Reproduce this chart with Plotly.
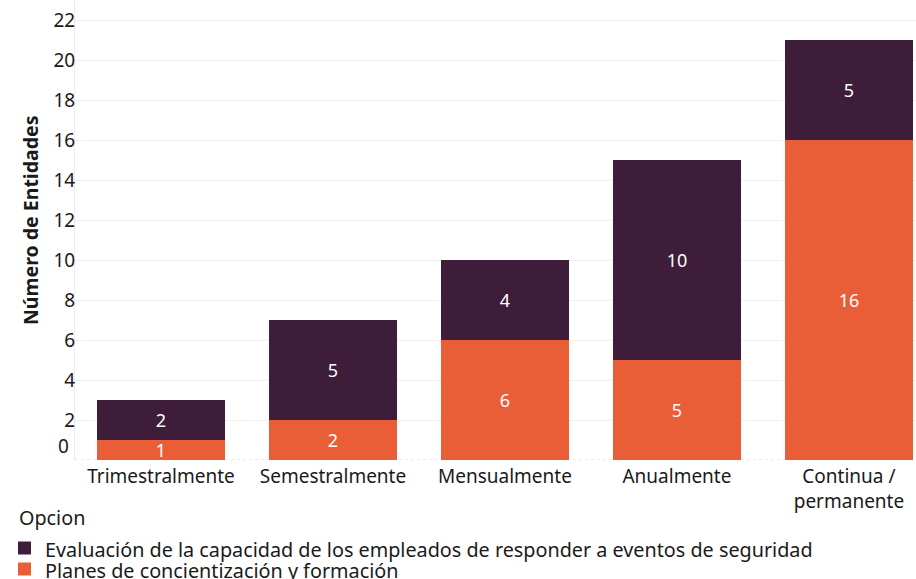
import plotly.graph_objects as go

categories = ["Trimestralmente", "Semestralmente", "Mensualmente", "Anualmente", "Continua /<br>permanente"]
planes = [1, 2, 6, 5, 16]
evaluacion = [2, 5, 4, 10, 5]
y_ticks = [2, 4, 6, 8, 10, 12, 14, 16, 18, 20, 22]
y_title = "Número de Entidades"
legend_title = "Opcion"
name_planes = "Planes de concientización y formación"
name_eval = "Evaluación de la capacidad de los empleados de responder a eventos de seguridad"

FONT = "Noto Sans"
PURPLE = "#3E1D3A"
ORANGE = "#EA5E37"
FS = 19
LFS = 19.8
TXT = "#1a1a1a"

W, H = 916, 579
ML, MR, MT, MB = 75, 0, 0, 119
PW, PH = W - ML - MR, H - MT - MB


def px_x(p):
    return (p - ML) / PW


def px_y(p):
    return (H - MB - p) / PH


fig = go.Figure()
fig.add_trace(go.Bar(
    x=categories, y=planes, name=name_planes,
    marker=dict(color=ORANGE, line=dict(width=0)),
    text=[str(v) for v in planes], textposition="inside", insidetextanchor="middle",
    textangle=0, textfont=dict(color="white", size=18, family=FONT),
    showlegend=False,
))
fig.add_trace(go.Bar(
    x=categories, y=evaluacion, name=name_eval,
    marker=dict(color=PURPLE, line=dict(width=0)),
    text=[str(v) for v in evaluacion], textposition="inside", insidetextanchor="middle",
    textangle=0, textfont=dict(color="white", size=18, family=FONT),
    showlegend=False,
))

# legend drawn as text + swatches
legend_items = [(name_eval, PURPLE, 548), (name_planes, ORANGE, 569)]
shapes = [dict(
    type="line", xref="paper", yref="y", x0=0, x1=1, y0=0, y1=0,
    line=dict(color="#d9d9d9", width=1, dash="dot"), layer="below",
)]
annotations = [
    dict(text="0", x=0, xref="paper", xanchor="right", xshift=-4,
         y=0.68, yref="y", showarrow=False, font=dict(size=FS, family=FONT, color=TXT)),
    dict(text="<b>" + y_title + "</b>", x=px_x(30), y=px_y(221), xref="paper", yref="paper",
         xanchor="center", yanchor="middle", textangle=-90, showarrow=False,
         font=dict(size=19.5, family=FONT, color=TXT)),
    dict(text=legend_title, x=px_x(17), y=px_y(517), xref="paper", yref="paper",
         xanchor="left", yanchor="middle", showarrow=False,
         font=dict(size=LFS, family=FONT, color=TXT)),
]
for name, color, yc in legend_items:
    shapes.append(dict(
        type="rect", xref="paper", yref="paper",
        x0=px_x(18), x1=px_x(31), y0=px_y(yc - 6.5), y1=px_y(yc + 6.5),
        fillcolor=color, line=dict(width=0),
    ))
    annotations.append(dict(
        text=name, x=px_x(43), y=px_y(yc + 1), xref="paper", yref="paper",
        xanchor="left", yanchor="middle", showarrow=False,
        font=dict(size=LFS, family=FONT, color=TXT),
    ))

fig.update_layout(
    width=W, height=H,
    margin=dict(l=ML, r=MR, t=MT, b=MB, autoexpand=False),
    barmode="stack", bargap=0.256,
    plot_bgcolor="white", paper_bgcolor="white",
    font=dict(family=FONT, size=FS, color=TXT),
    uniformtext=dict(minsize=18, mode="show"),
    showlegend=False,
    xaxis=dict(
        range=[-0.5, 4.39], showgrid=False, zeroline=False,
        showline=False, automargin=False,
        tickfont=dict(size=FS, family=FONT, color=TXT),
        ticks="", fixedrange=True, ticklabelstandoff=3,
    ),
    yaxis=dict(
        range=[0, 23], tickvals=y_ticks, ticktext=[str(v) for v in y_ticks],
        showgrid=True, gridcolor="#f0f0f0", gridwidth=1, automargin=False,
        zeroline=False, showline=True, linecolor="#ececec",
        tickfont=dict(size=FS, family=FONT, color=TXT),
        ticks="", ticklen=0, ticklabelstandoff=-5,
    ),
    shapes=shapes,
    annotations=annotations,
)

fig.write_html("out.html", post_script="document.body.style.margin='0px';",
               config={"displayModeBar": False})
